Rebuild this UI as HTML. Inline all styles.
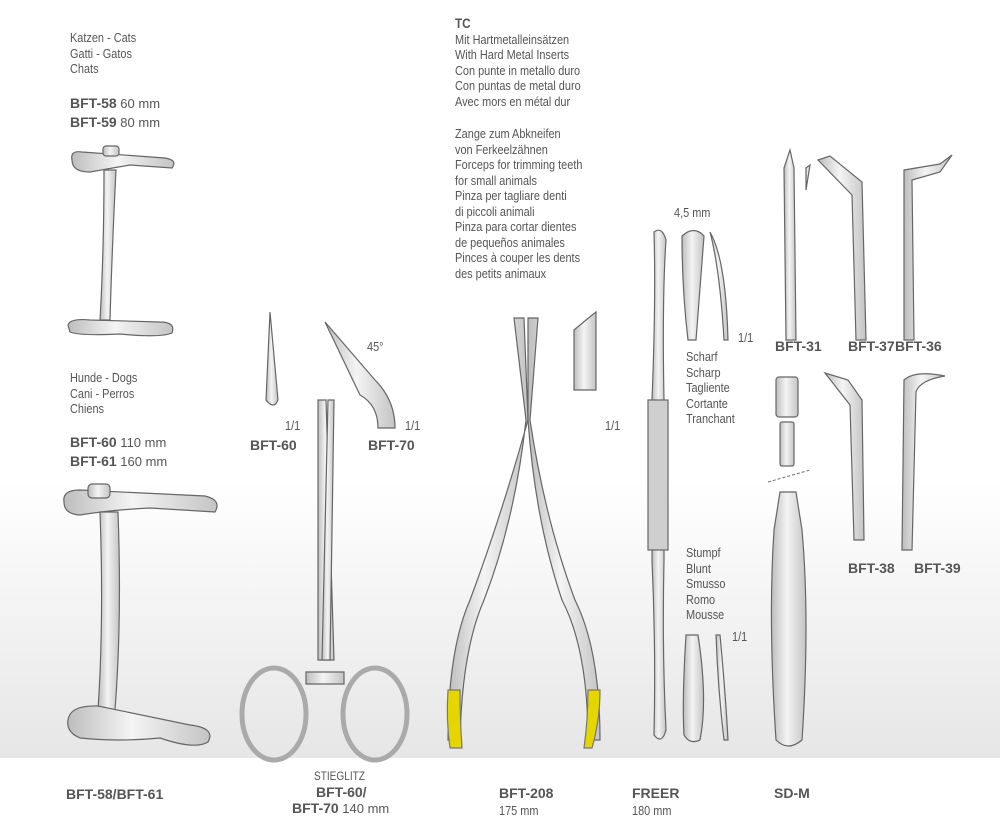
<!DOCTYPE html>
<html><head><meta charset="utf-8"><style>
html,body{margin:0;padding:0}
body{width:1000px;height:825px;position:relative;overflow:hidden;background:#fff;font-family:"Liberation Sans",sans-serif;color:#555}
.bg{position:absolute;left:0;top:0;width:1000px;height:758px;background:linear-gradient(#fff 0,#fff 480px,#e6e6e6 758px)}
.t{position:absolute;font-size:13px;line-height:15.5px;white-space:nowrap;transform:scaleX(0.84);transform-origin:0 0}
.b{font-weight:bold;font-size:14px}
.t.b{transform:none}
svg{position:absolute;left:0;top:0}
</style></head><body>
<div class="bg"></div>
<svg width="1000" height="825" viewBox="0 0 1000 825">
<defs>
<linearGradient id="m" x1="0" x2="1"><stop offset="0" stop-color="#bdbdbd"/><stop offset=".45" stop-color="#f4f4f4"/><stop offset="1" stop-color="#c4c4c4"/></linearGradient>
</defs>
<g fill="url(#m)" stroke="#666" stroke-width="1.2">
<path d="M72 160 Q70 150 82 152 L165 158 Q178 160 172 168 L130 165 Q112 168 90 172 Q72 172 72 160Z"/>
<rect x="103" y="146" width="16" height="10" rx="3"/>
<path d="M104 170 L116 170 Q112 250 110 320 L100 320 Q104 250 104 170Z"/>
<path d="M68 325 Q70 318 90 320 L160 322 Q176 322 172 333 Q160 338 120 334 Q80 336 70 332Z"/>
<path d="M64 502 Q62 490 80 490 L205 496 Q222 500 215 512 L150 508 Q110 510 80 515 Q64 514 64 502Z"/>
<rect x="88" y="484" width="22" height="14" rx="4"/>
<path d="M100 512 L118 512 Q122 620 115 710 L98 710 Q104 620 100 512Z"/>
<path d="M68 720 Q70 705 98 706 L190 725 Q216 728 208 742 Q195 750 160 738 Q120 742 80 738 Q66 732 68 720Z"/>
<path d="M318 400 L326 400 L334 660 L318 660 Z"/>
<path d="M328 400 L334 400 L330 660 L322 660 Z"/>
<path d="M306 672 L344 672 L344 684 L306 684Z"/>
<ellipse cx="274" cy="714" rx="32" ry="46" fill="none" stroke-width="5" stroke="#aaa"/>
<ellipse cx="375" cy="714" rx="32" ry="46" fill="none" stroke-width="5" stroke="#aaa"/>
<path d="M270 312 L278 400 Q274 410 266 400 Z"/>
<path d="M325 322 L375 380 Q395 400 395 428 L378 428 Q378 405 360 395 Z"/>
<path d="M514 318 L524 318 L528 420 Q500 520 470 600 Q448 650 448 740 L460 740 Q462 650 484 600 Q515 520 526 420Z"/>
<path d="M528 318 L538 318 L530 420 Q545 520 575 600 Q600 650 600 740 L588 740 Q588 650 562 600 Q535 520 528 420Z"/>
<path d="M448 690 L460 690 Q460 720 462 748 L450 748 Q446 720 448 690Z" fill="#e6d600" stroke="#777"/>
<path d="M588 690 L600 690 Q600 720 592 748 L584 748 Q588 720 588 690Z" fill="#e6d600" stroke="#777"/>
<path d="M574 330 Q592 315 596 312 L596 390 L574 390 Z"/>
<path d="M654 232 Q662 226 666 240 Q662 300 664 400 L664 560 Q662 650 666 730 Q662 745 654 735 Q656 650 652 560 L652 400 Q656 300 654 232Z"/>
<rect x="648" y="400" width="20" height="150" fill="#cfcfcf"/>
<path d="M682 236 Q694 225 704 236 Q700 290 696 340 L688 340 Q682 290 682 236Z"/>
<path d="M710 232 Q726 260 728 340 L724 340 Q720 270 710 232Z"/>
<path d="M686 635 L698 635 Q708 700 700 740 Q690 745 684 735 Q682 700 686 635Z"/>
<path d="M716 635 L720 635 Q726 700 728 740 L724 740 Q718 690 716 635Z"/>
<path d="M784 168 L790 150 L794 168 L796 340 L786 340Z"/>
<path d="M806 168 L810 165 L806 190Z"/>
<path d="M818 160 L830 156 L862 182 L866 340 L856 340 L852 195Z"/>
<path d="M904 170 L940 164 L952 155 L940 172 L912 180 L914 340 L904 340Z"/>
<path d="M825 373 L848 380 L862 400 L864 540 L854 540 L850 405Z"/>
<path d="M904 380 Q915 370 945 376 Q920 380 916 392 L912 550 L902 550Z"/>
<rect x="776" y="377" width="22" height="40" rx="3"/>
<rect x="780" y="422" width="14" height="44" rx="2"/>
<path d="M780 492 L796 492 L802 530 Q810 620 802 740 Q788 752 776 740 Q768 620 774 530Z"/>
</g>
<line x1="768" y1="482" x2="810" y2="470" stroke="#666" stroke-dasharray="3,2"/>
</svg>

<div class="t" style="left:70px;top:30px">Katzen - Cats<br>Gatti - Gatos<br>Chats</div>
<div class="t" style="left:70px;top:94px;line-height:18px;transform:none"><span class="b">BFT-58</span> 60 mm<br><span class="b">BFT-59</span> 80 mm</div>
<div class="t" style="left:70px;top:370px">Hunde - Dogs<br>Cani - Perros<br>Chiens</div>
<div class="t" style="left:70px;top:433px;line-height:18px;transform:none"><span class="b">BFT-60</span> 110 mm<br><span class="b">BFT-61</span> 160 mm</div>
<div class="t" style="left:455px;top:16px"><span class="b">TC</span><br>Mit Hartmetalleinsätzen<br>With Hard Metal Inserts<br>Con punte in metallo duro<br>Con puntas de metal duro<br>Avec mors en métal dur</div>
<div class="t" style="left:455px;top:126px">Zange zum Abkneifen<br>von Ferkeelzähnen<br>Forceps for trimming teeth<br>for small animals<br>Pinza per tagliare denti<br>di piccoli animali<br>Pinza para cortar dientes<br>de pequeños animales<br>Pinces à couper les dents<br>des petits animaux</div>
<div class="t" style="left:367px;top:339px">45°</div>
<div class="t" style="left:285px;top:418px">1/1</div>
<div class="t" style="left:405px;top:418px">1/1</div>
<div class="t b" style="left:250px;top:438px">BFT-60</div>
<div class="t b" style="left:368px;top:438px">BFT-70</div>
<div class="t" style="left:605px;top:418px">1/1</div>
<div class="t" style="left:674px;top:205px">4,5 mm</div>
<div class="t" style="left:738px;top:330px">1/1</div>
<div class="t" style="left:686px;top:349px">Scharf<br>Scharp<br>Tagliente<br>Cortante<br>Tranchant</div>
<div class="t" style="left:686px;top:545px">Stumpf<br>Blunt<br>Smusso<br>Romo<br>Mousse</div>
<div class="t" style="left:732px;top:629px">1/1</div>
<div class="t b" style="left:775px;top:339px">BFT-31</div>
<div class="t b" style="left:848px;top:339px">BFT-37</div>
<div class="t b" style="left:895px;top:339px">BFT-36</div>
<div class="t b" style="left:848px;top:561px">BFT-38</div>
<div class="t b" style="left:914px;top:561px">BFT-39</div>
<div class="t b" style="left:66px;top:787px">BFT-58/BFT-61</div>
<div class="t" style="left:314px;top:769px;font-size:12px">STIEGLITZ</div>
<div class="t b" style="left:316px;top:785px">BFT-60/</div>
<div class="t" style="left:292px;top:801px;transform:none"><span class="b">BFT-70</span> 140 mm</div>
<div class="t b" style="left:499px;top:786px">BFT-208</div>
<div class="t" style="left:499px;top:803px">175 mm</div>
<div class="t b" style="left:632px;top:786px">FREER</div>
<div class="t" style="left:632px;top:803px">180 mm</div>
<div class="t b" style="left:774px;top:786px">SD-M</div>
</body></html>
